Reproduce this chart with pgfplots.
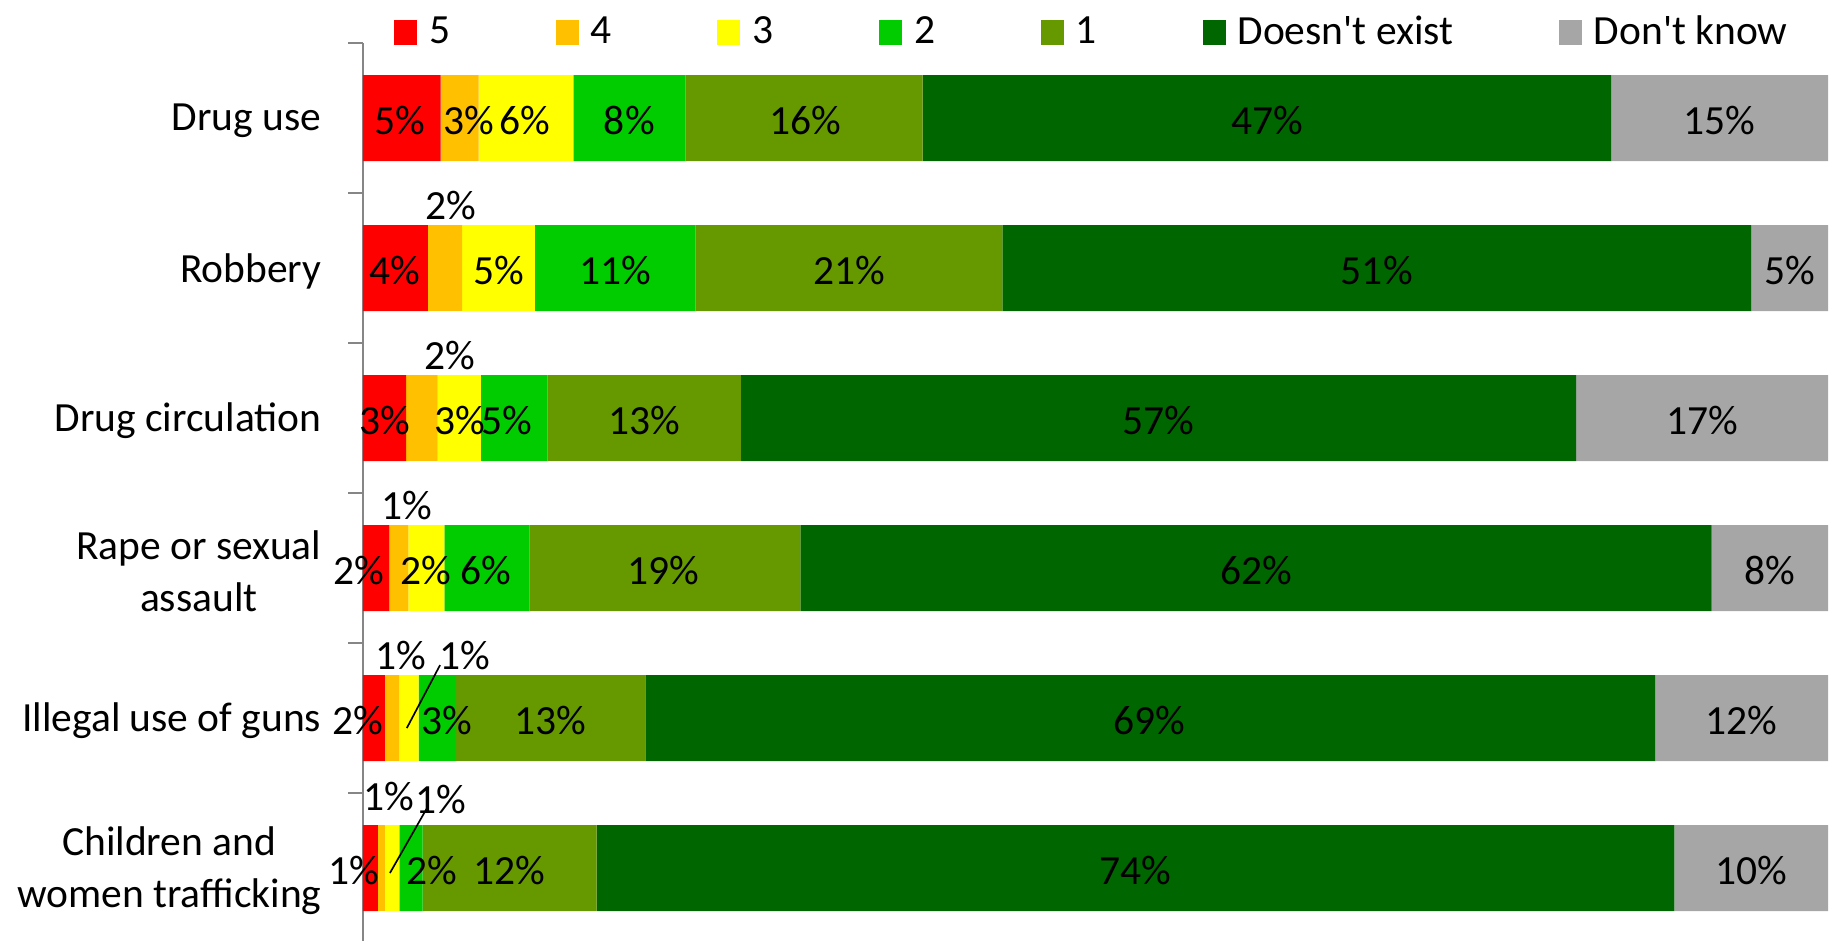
\documentclass[border=0pt]{standalone}
\usepackage{pgfplots}
\pgfplotsset{compat=1.18}
\usepackage{pgfplotstable}
\usepackage{fontspec}
\setmainfont{Carlito}[Ligatures=TeXOff]

\definecolor{c5}{HTML}{FF0000}
\definecolor{c4}{HTML}{FFC000}
\definecolor{c3}{HTML}{FFFF00}
\definecolor{c2}{HTML}{00CC00}
\definecolor{c1}{HTML}{669900}
\definecolor{cdn}{HTML}{006600}
\definecolor{cdk}{HTML}{A6A6A6}
\definecolor{axisgray}{HTML}{868686}

\pgfplotstableread{
y r5 r4 r3 r2 r1 dne dk
0 5.3 2.6 6.46 7.64 16.2 47.0 14.8
1 4.42 2.35 4.96 10.96 20.95 51.13 5.23
2 2.94 2.16 2.95 4.55 13.2 57.0 17.2
3 1.8 1.29 2.46 5.8 18.5 62.2 7.95
4 1.5 0.98 1.32 2.55 12.92 68.93 11.8
5 1.02 0.48 0.98 1.59 11.88 73.56 10.49
}\bars

\pgfplotstableread{
x y lab
2.53 0 5
7.24 0 3
11.06 0 6
18.18 0 8
30.2 0 16
61.7 0 47
92.6 0 15
2.2 1 4
5.97 0.567 2
9.26 1 5
17.2 1 11
33.2 1 21
69.2 1 51
97.4 1 5
1.47 2 3
5.9 1.567 2
6.6 2 3
9.8 2 5
19.2 2 13
54.3 2 57
91.4 2 17
-0.27 3 2
3.0 2.567 1
4.3 3 2
8.4 3 6
20.5 3 19
61.0 3 62
96.0 3 8
-0.34 4 2
2.59 3.567 1
6.96 3.567 1
5.73 4 3
12.76 4 13
53.7 4 69
94.1 4 12
-0.61 5 1
1.77 4.507 1
5.32 4.527 1
4.71 5 2
9.97 5 12
52.7 5 74
94.75 5 10
}\labs

\begin{document}
\begin{tikzpicture}[font=\fontsize{12.45pt}{15.6pt}\selectfont]
\begin{axis}[
  at={(0,0)}, anchor=south west,
  scale only axis, width=439.5pt, height=270pt,
  xbar stacked, bar width=25.8pt,
  xmin=0, xmax=100, ymin=-0.5, ymax=5.5, y dir=reverse,
  axis x line=none, axis y line=left,
  axis line style={-},
  y axis line style={draw=axisgray, line width=0.5pt},
  xtick=\empty,
  ytick={0,1,2,3,4,5},
  yticklabels={Drug use, Robbery, Drug circulation, {Rape or sexual\\assault}, Illegal use of guns, {Children and\\women trafficking}},
  minor ytick={-0.5,0.5,1.5,2.5,3.5,4.5,5.5},
  major tick length=0pt, minor tick length=4.5pt, tick align=outside,
  tick style={draw=axisgray, line width=0.5pt},
  yticklabel style={align=center, inner sep=0pt, xshift=-12.3pt, yshift=-0.9pt},
  legend columns=7,
  legend image code/.code={\fill[#1] (0pt,-3.75pt) rectangle (6.9pt,3.75pt);},
  legend style={draw=none, fill=none, at={(0.0212,1.0117)}, anchor=west,
    inner sep=0pt, outer sep=0pt, nodes={inner sep=0pt},
    /tikz/every odd column/.append style={column sep=3.6pt},
    /tikz/every even column/.append style={column sep=31.7pt}},
]
\addplot[fill=c5, draw=none] table[x=r5, y=y] {\bars};
\addlegendentry{5}
\addplot[fill=c4, draw=none] table[x=r4, y=y] {\bars};
\addlegendentry{4}
\addplot[fill=c3, draw=none] table[x=r3, y=y] {\bars};
\addlegendentry{3}
\addplot[fill=c2, draw=none] table[x=r2, y=y] {\bars};
\addlegendentry{2}
\addplot[fill=c1, draw=none] table[x=r1, y=y] {\bars};
\addlegendentry{1}
\addplot[fill=cdn, draw=none] table[x=dne, y=y] {\bars};
\addlegendentry{Doesn't exist}
\addplot[fill=cdk, draw=none] table[x=dk, y=y] {\bars};
\addlegendentry{Don't know}
\end{axis}
\begin{axis}[
  at={(0,0)}, anchor=south west,
  scale only axis, width=439.5pt, height=270pt,
  xmin=0, xmax=100, ymin=-0.5, ymax=5.5, y dir=reverse,
  hide axis, clip=false,
]
\addplot[only marks, mark=none, point meta=explicit symbolic,
  nodes near coords={\pgfplotspointmeta\%},
  every node near coord/.append style={anchor=center, inner sep=0pt, text=black, yshift=-0.6pt}]
  table[x=x, y=y, meta=lab] {\labs};
\addplot[black, line width=0.5pt, mark=none] coordinates {(5.26,3.647) (2.99,4.067)};
\addplot[black, line width=0.5pt, mark=none] coordinates {(4.37,4.600) (1.84,5.033)};
\end{axis}
\pgfresetboundingbox
\path (-108.9pt,0.9pt) rectangle (441.6pt,282.9pt);
\end{tikzpicture}
\end{document}
